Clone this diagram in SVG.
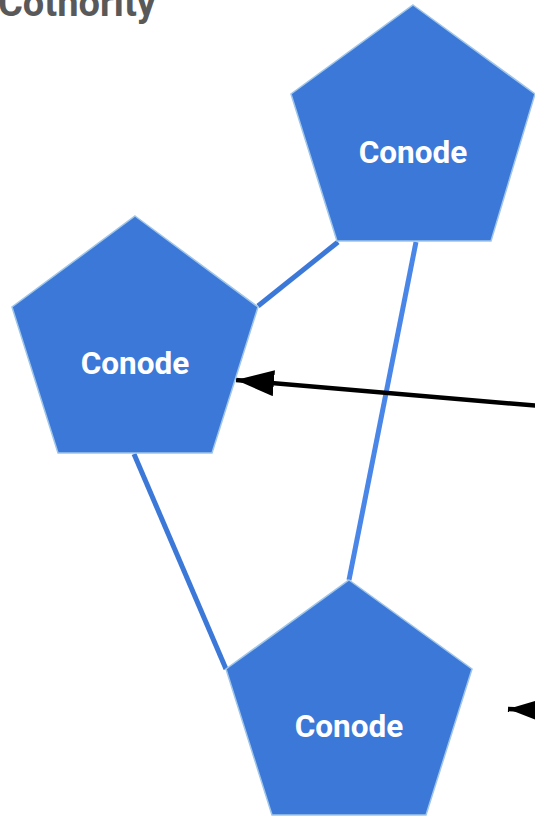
<svg xmlns="http://www.w3.org/2000/svg" width="535" height="816" viewBox="0 0 535 816">
  <defs>
    <style>
      .node { fill: #3c78d8; stroke: #9fc5e8; stroke-width: 1.5; stroke-linejoin: miter; }
      .label { font-family: Roboto, "Liberation Sans", sans-serif; font-weight: bold; font-size: 31.5px; fill: #ffffff; text-anchor: middle; dominant-baseline: central; }
      .title { font-family: Roboto, "Liberation Sans", sans-serif; font-weight: bold; font-size: 38px; fill: #595959; }
      .link { stroke: #3c78d8; stroke-width: 5; fill: none; }
      .link-light { stroke: #4a86e8; stroke-width: 5; fill: none; }
      .arrow { stroke: #000000; stroke-width: 4.5; fill: none; }
    </style>
    <marker id="head" markerUnits="userSpaceOnUse" markerWidth="40" markerHeight="28" refX="38" refY="13" orient="auto">
      <path d="M0,0 L38,13 L0,26 Z" fill="#000000"/>
    </marker>
  </defs>

  <rect width="535" height="816" fill="#ffffff"/>

  <text class="title" x="-2" y="16">Cothority</text>

  <!-- links between conodes -->
  <g id="connectors">
    <line class="link" x1="338" y1="242" x2="258" y2="306"/>
    <line class="link-light" x1="416" y1="242" x2="349" y2="580"/>
    <line class="link" x1="134" y1="454" x2="226" y2="669"/>
    <line class="arrow" x1="540" y1="406" x2="236" y2="380" marker-end="url(#head)"/>
    <line class="arrow" x1="580" y1="712" x2="508" y2="709" marker-end="url(#head)"/>
  </g>

  <g id="conode-top">
    <polygon class="node" points="413,5 535,94 491,241 337,241 291,94"/>
    <text class="label" x="413" y="152">Conode</text>
  </g>

  <g id="conode-left">
    <polygon class="node" points="135,216 258,307 212,453 58,453 12,307"/>
    <text class="label" x="135" y="363">Conode</text>
  </g>

  <g id="conode-bottom">
    <polygon class="node" points="349,580 472,669 426,815 272,815 226,669"/>
    <text class="label" x="349" y="726">Conode</text>
  </g>
</svg>
